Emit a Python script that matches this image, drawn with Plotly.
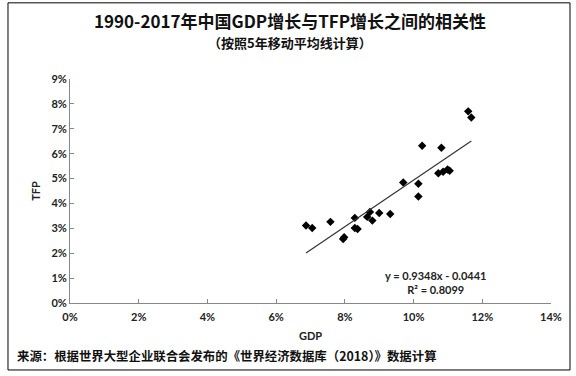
import plotly.graph_objects as go

gdp = [6.87, 7.05, 7.58, 7.95, 7.98, 8.29, 8.29, 8.37, 8.65, 8.73, 8.80, 9.00,
       9.32, 9.70, 10.14, 10.14, 10.25, 10.72, 10.81, 10.86, 10.99, 11.05, 11.59, 11.68]
tfp = [3.11, 3.01, 3.26, 2.57, 2.64, 3.42, 3.01, 2.97, 3.46, 3.66, 3.31, 3.62,
       3.58, 4.84, 4.79, 4.28, 6.32, 5.21, 6.24, 5.27, 5.36, 5.31, 7.70, 7.45]
gdp = [v / 100 for v in gdp]
tfp = [v / 100 for v in tfp]
slope, intercept = 0.9348, -0.0441
x_ticks = [0, 0.02, 0.04, 0.06, 0.08, 0.10, 0.12, 0.14]
y_ticks = [0, 0.01, 0.02, 0.03, 0.04, 0.05, 0.06, 0.07, 0.08, 0.09]

FONT = "Lato, 'Noto Sans CJK SC', sans-serif"
CJK = "'Noto Sans CJK SC', Lato, sans-serif"

fig = go.Figure()
fig.add_trace(go.Scatter(
    x=gdp, y=tfp, mode="markers",
    marker=dict(symbol="diamond", size=6.5, color="black"),
    showlegend=False))
tx = [min(gdp), max(gdp)]
fig.add_trace(go.Scatter(
    x=tx, y=[slope * v + intercept for v in tx], mode="lines",
    line=dict(color="#333333", width=1.2), showlegend=False))

tickfont = dict(family=FONT, size=11, color="#222", weight="bold")
axis_common = dict(showgrid=False, zeroline=False, showline=True, linecolor="#888888",
                   linewidth=1, ticks="inside", ticklen=4, tickcolor="#888888",
                   tickformat=".0%", tickfont=tickfont)
fig.update_xaxes(range=[0, 0.14], tickvals=x_ticks, **axis_common,
                 title=dict(text="<b>GDP</b>", font=dict(family=FONT, size=11, color="#222"), standoff=10))
fig.update_yaxes(range=[0, 0.09], tickvals=y_ticks, **axis_common,
                 title=dict(text="<b>TFP</b>", font=dict(family=FONT, size=11, color="#222"), standoff=8))
fig.update_xaxes(ticklabelstandoff=4)

fig.update_layout(
    width=576, height=376,
    margin=dict(l=70, r=25, t=79, b=73),
    paper_bgcolor="white", plot_bgcolor="white",
    font=dict(family=FONT),
    shapes=[dict(type="rect", xref="paper", yref="paper", x0=-0.1289, x1=1.0395,
                 y0=-0.299, y1=1.34, line=dict(color="black", width=1), layer="above")],
    annotations=[
        dict(text="<b>1990-2017年中国GDP增长与TFP增长之间的相关性</b>", xref="paper", yref="paper",
             x=0.458, y=1.26, xanchor="center", yanchor="middle", showarrow=False,
             font=dict(family=CJK, size=17, color="#111")),
        dict(text="<b>（按照5年移动平均线计算）</b>", xref="paper", yref="paper",
             x=0.458, y=1.165, xanchor="center", yanchor="middle", showarrow=False,
             font=dict(family=CJK, size=13, color="#111")),
        dict(text="<b>y = 0.9348x - 0.0441</b><br><b>R² = 0.8099</b>", xref="paper", yref="paper",
             x=0.76, y=0.09, xanchor="center", yanchor="middle", showarrow=False,
             font=dict(family=FONT, size=11, color="#222")),
        dict(text="<b>来源：根据世界大型企业联合会发布的《世界经济数据库（2018）》数据计算</b>",
             xref="paper", yref="paper", x=-0.115, y=-0.235, xanchor="left", yanchor="middle",
             showarrow=False, font=dict(family=CJK, size=12.4, color="#111")),
    ])

fig.write_html("out.html", config={"displayModeBar": False},
               post_script="document.body.style.margin='0';")
